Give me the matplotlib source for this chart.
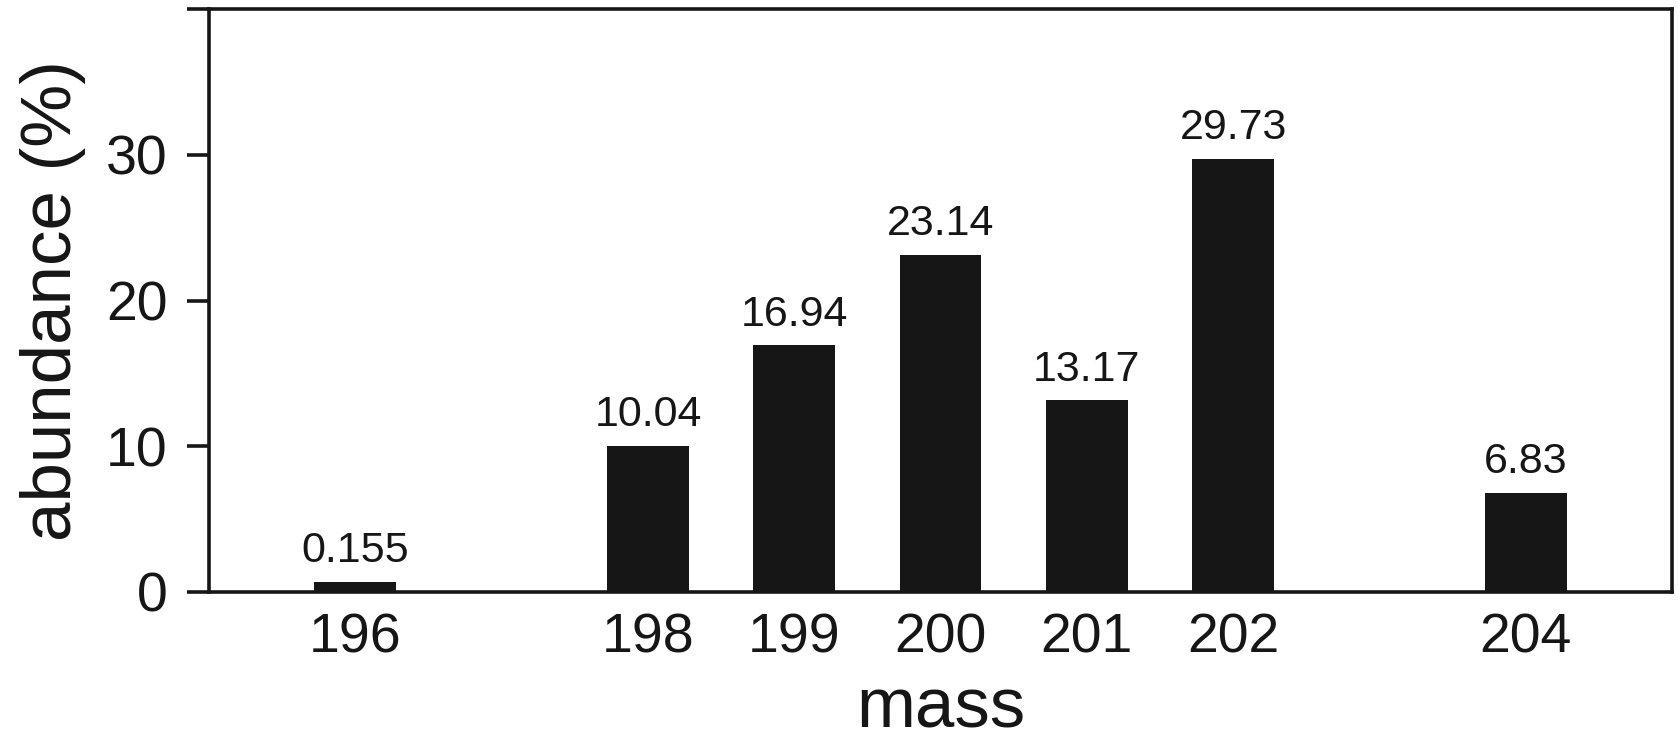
import numpy as np
import matplotlib
matplotlib.use("Agg")
import matplotlib.pyplot as plt

plt.rcParams['font.family'] = ['Liberation Sans', 'DejaVu Sans']

# mercury isotopes
masses = [196, 198, 199, 200, 201, 202, 204]
abundance = [0.155, 10.04, 16.94, 23.14, 13.17, 29.73, 6.83]
labels = ["0.155", "10.04", "16.94", "23.14", "13.17", "29.73", "6.83"]
yticks = [0, 10, 20, 30, 40]
yticklabels = ["0", "10", "20", "30", ""]

dark = "#161616"
lw = 2.6

fig = plt.figure(figsize=(16.78, 7.40), dpi=100)
ax = fig.add_axes([0.1246, 0.2, 0.8718, 0.7874])

# the tiny 196 bar is drawn a bit taller in the original so it stays visible
heights = np.maximum(abundance, 0.7)
ax.bar(masses, heights, width=0.56, color=dark, zorder=1)

for m, h, t in zip(masses, heights, labels):
    ax.annotate(t, (m, h), xytext=(0, 14), textcoords="offset points",
                ha="center", va="baseline", fontsize=31, color=dark)

ax.set_xlim(195, 205)
ax.set_ylim(0, 40)
ax.set_xticks(masses)
ax.set_xticklabels([str(m) for m in masses])
ax.set_yticks(yticks)
ax.set_yticklabels(yticklabels)

ax.tick_params(axis="y", direction="out", length=16, width=lw, labelsize=40,
               pad=14, colors=dark)
ax.tick_params(axis="x", length=0, labelsize=40, pad=15, colors=dark)
for s in ax.spines.values():
    s.set_linewidth(lw)
    s.set_color(dark)
    s.set_zorder(3)

ax.set_xlabel("mass", fontsize=51, color=dark)
ax.set_ylabel("abundance (%)", fontsize=51, color=dark)
ax.xaxis.set_label_coords(0.5, -0.145)
ax.yaxis.set_label_coords(-0.084, 0.5)

fig.savefig("out.png", dpi=100)
